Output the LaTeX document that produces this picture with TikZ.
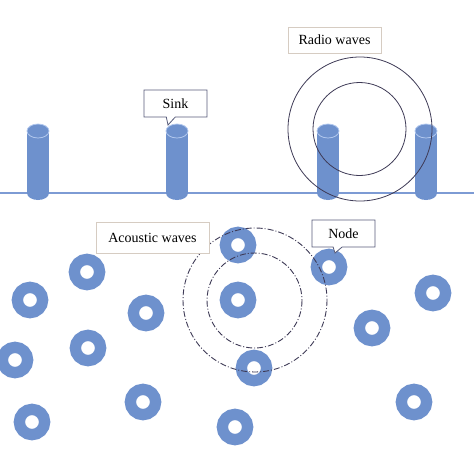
\documentclass[tikz,border=0pt]{standalone}
\usepackage{fontspec}
\setmainfont{Liberation Serif}
\usetikzlibrary{shapes.callouts}
\definecolor{sinkblue}{RGB}{110,145,205}
\definecolor{rimblue}{RGB}{178,200,238}
\definecolor{waterline}{RGB}{125,155,212}
\definecolor{wavegray}{RGB}{62,58,86}
\definecolor{boxtan}{RGB}{214,204,194}
\definecolor{boxdark}{RGB}{88,92,122}
\tikzset{
	donut/.style={circle, draw=sinkblue, fill=white, line width=11.3pt, minimum size=25.3pt, inner sep=0pt},
	plainbox/.style={draw=boxtan, line width=0.8pt, fill=white, font=\fontsize{14}{16}\selectfont},
	talkbox/.style={rectangle callout, draw=boxdark, line width=0.8pt, fill=white, minimum width=63pt, minimum height=27pt, callout pointer width=9pt, font=\fontsize{14}{16}\selectfont},
	radiowave/.style={draw=wavegray, line width=0.8pt},
	acousticwave/.style={draw=wavegray, line width=0.9pt, dash pattern=on 6pt off 2pt on 1pt off 2pt}
}
\begin{document}
\begin{tikzpicture}[x=1pt, y=-1pt]
		\useasboundingbox (0,0) rectangle (474,474);
		% sea surface
		\draw[waterline, line width=1.4pt] (0,193) -- (474,193);
		% sinks
		\fill[sinkblue] (27,131) rectangle (49,193);
		\fill[sinkblue] (38,193) ellipse (11 and 7);
		\filldraw[fill=sinkblue, draw=rimblue, line width=0.8pt] (38,131) ellipse (11 and 7);
		\fill[sinkblue] (166,131) rectangle (188,193);
		\fill[sinkblue] (177,193) ellipse (11 and 7);
		\filldraw[fill=sinkblue, draw=rimblue, line width=0.8pt] (177,131) ellipse (11 and 7);
		\fill[sinkblue] (317,131) rectangle (339,193);
		\fill[sinkblue] (328,193) ellipse (11 and 7);
		\filldraw[fill=sinkblue, draw=rimblue, line width=0.8pt] (328,131) ellipse (11 and 7);
		\fill[sinkblue] (415,131) rectangle (437,193);
		\fill[sinkblue] (426,193) ellipse (11 and 7);
		\filldraw[fill=sinkblue, draw=rimblue, line width=0.8pt] (426,131) ellipse (11 and 7);
		% radio waves
		\draw[radiowave] (360,129) circle (72);
		\draw[radiowave] (359.5,129) circle (46.5);
		% sensor nodes
		\node[donut] (d1) at (238,245) {};
		\node[donut] (d2) at (329,267) {};
		\node[donut] (d3) at (87,272) {};
		\node[donut] (d4) at (30,300) {};
		\node[donut] (d5) at (238,300) {};
		\node[donut] (d6) at (433,293) {};
		\node[donut] (d7) at (146,313) {};
		\node[donut] (d8) at (372,328) {};
		\node[donut] (d9) at (88,348) {};
		\node[donut] (d10) at (15,360) {};
		\node[donut] (d11) at (254,368) {};
		\node[donut] (d12) at (143,402) {};
		\node[donut] (d13) at (414,402) {};
		\node[donut] (d14) at (32,422) {};
		\node[donut] (d15) at (235,427) {};
		% acoustic waves
		\draw[acousticwave] (255,300) circle (72);
		\draw[acousticwave] (254.5,300.5) circle (47.5);
		% labels
		\node[plainbox, minimum width=93pt, minimum height=26pt] (radio) at (334.5,40) {Radio waves};
		\node[plainbox, minimum width=113pt, minimum height=31pt] (acoustic) at (152.5,237.5) {Acoustic waves};
		\node[talkbox, callout absolute pointer={(168,125)}] (sink) at (175.5,103.5) {Sink};
		\node[talkbox, callout absolute pointer={(335,253)}] (node) at (343.5,233.5) {Node};
	\end{tikzpicture}
\end{document}
